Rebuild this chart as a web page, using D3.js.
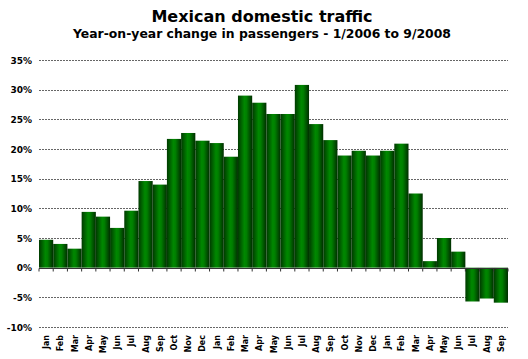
<!DOCTYPE html>
<html><head><meta charset="utf-8">
<script src="https://cdn.jsdelivr.net/npm/d3@7"></script>
<style>body{margin:0;background:#fff}svg{display:block}text{font-family:"DejaVu Sans",Verdana,sans-serif;font-weight:bold;fill:#000}</style>
</head><body><svg id="c" width="528" height="359"></svg>
<script>
const months = ["Jan","Feb","Mar","Apr","May","Jun","Jul","Aug","Sep","Oct","Nov","Dec",
"Jan","Feb","Mar","Apr","May","Jun","Jul","Aug","Sep","Oct","Nov","Dec",
"Jan","Feb","Mar","Apr","May","Jun","Jul","Aug","Sep"];
const values = [4.7,4.0,3.2,9.4,8.6,6.7,9.6,14.6,14.0,21.7,22.7,21.4,
21.0,18.7,29.0,27.8,25.9,25.9,30.8,24.2,21.5,18.9,19.7,18.9,
19.7,20.9,12.5,1.1,5.0,2.7,-5.7,-5.2,-5.9];
const yTicks = [-10,-5,0,5,10,15,20,25,30,35];
const title = "Mexican domestic traffic";
const subtitle = "Year-on-year change in passengers - 1/2006 to 9/2008";

const svg = d3.select("#c");
const m = {l:39, r:508, t:60, b:327};
const x = d3.scaleBand().domain(d3.range(values.length)).range([m.l, m.r]).padding(0);
const y = d3.scaleLinear().domain([-10,35]).range([m.b, m.t]);

const defs = svg.append("defs");
const g = defs.append("linearGradient").attr("id","bg").attr("x1","0").attr("x2","1").attr("y1","0").attr("y2","0");
g.append("stop").attr("offset","0%").attr("stop-color","#003a00");
g.append("stop").attr("offset","45%").attr("stop-color","#008800");
g.append("stop").attr("offset","60%").attr("stop-color","#007f00");
g.append("stop").attr("offset","100%").attr("stop-color","#002e00");

svg.append("text").attr("x",262).attr("y",22).attr("text-anchor","middle").style("font-size","16px").text(title);
svg.append("text").attr("x",262).attr("y",38).attr("text-anchor","middle").style("font-size","12.4px").text(subtitle);

// gridlines
svg.append("g").selectAll("line").data(yTicks.filter(d=>d!==0)).join("line")
 .attr("x1",m.l).attr("x2",m.r).attr("y1",d=>Math.round(y(d))+0.5).attr("y2",d=>Math.round(y(d))+0.5)
 .attr("stroke","#666").attr("stroke-width",1).attr("stroke-dasharray","2,1");

// y labels
svg.append("g").selectAll("text").data(yTicks).join("text")
 .attr("x",32).attr("y",d=>y(d)+3.5).attr("text-anchor","end").style("font-size","9px")
 .text(d=>d+"%");

// bars
svg.append("g").selectAll("rect").data(values).join("rect")
 .attr("x",(d,i)=>x(i)).attr("width",x.bandwidth())
 .attr("y",d=>y(Math.max(0,d))).attr("height",d=>Math.abs(y(d)-y(0)))
 .attr("fill","url(#bg)");

// zero axis
const z = Math.round(y(0))+0.5;
svg.append("line").attr("x1",m.l).attr("x2",m.r).attr("y1",z).attr("y2",z).attr("stroke","#333").attr("stroke-width",1);
svg.append("g").selectAll("line").data(d3.range(values.length+1)).join("line")
 .attr("x1",i=>i<values.length?x(i):m.r).attr("x2",i=>i<values.length?x(i):m.r)
 .attr("y1",z).attr("y2",z+3).attr("stroke","#333");

// x labels
svg.append("g").selectAll("text").data(months).join("text")
 .attr("transform",(d,i)=>`translate(${x(i)+x.bandwidth()/2+3},335) rotate(-90)`)
 .attr("text-anchor","end").style("font-size","8px").text(d=>d);
</script></body></html>
